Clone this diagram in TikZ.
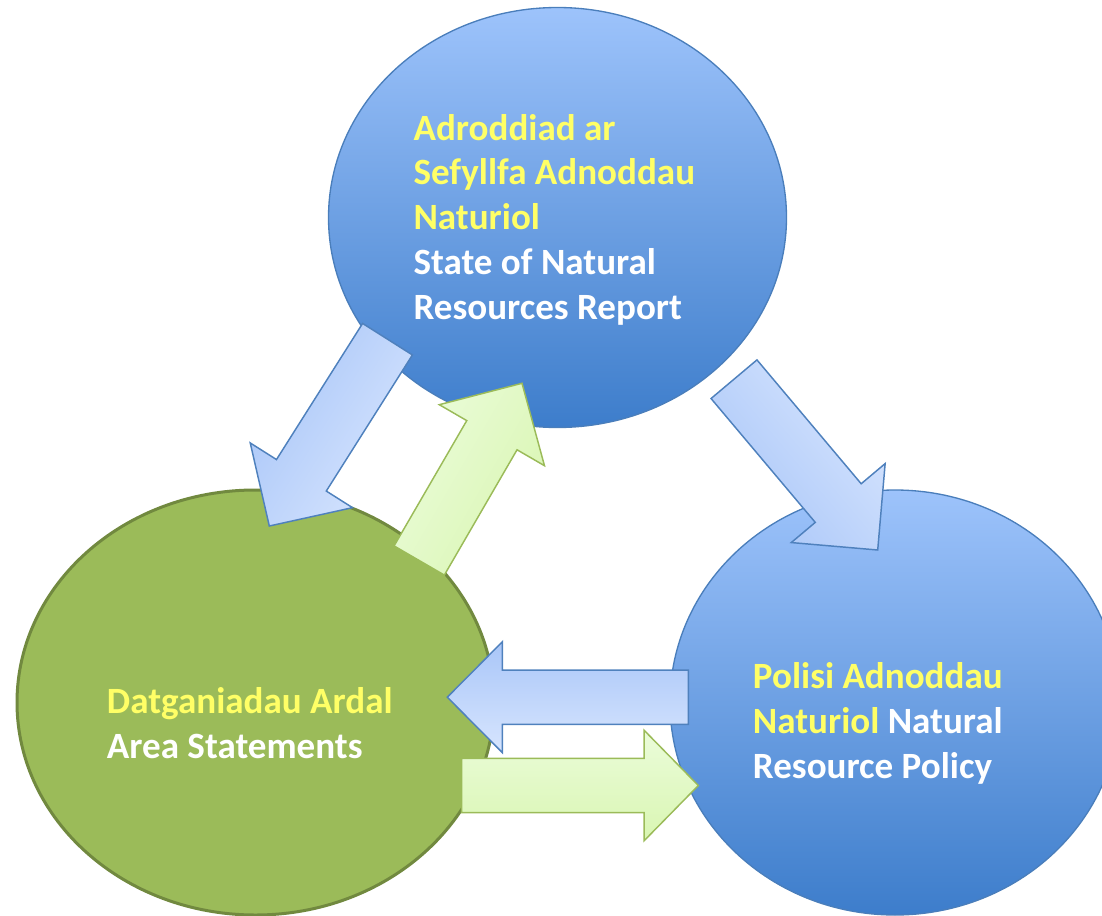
\documentclass[tikz,border=0pt]{standalone}
\usepackage{fontspec}
\setmainfont{Carlito}
\usetikzlibrary{calc,shapes.geometric}

\definecolor{circtop}{HTML}{9DC3FB}
\definecolor{circbot}{HTML}{3D7DCB}
\definecolor{circline}{HTML}{4A7EBB}
\definecolor{areafill}{HTML}{9BBB59}
\definecolor{arealine}{HTML}{71893F}
\definecolor{arrowblueA}{HTML}{A9C6F8}
\definecolor{arrowblueB}{HTML}{D7E5FE}
\definecolor{arrowline}{HTML}{4F81BD}
\definecolor{arrowgreenA}{HTML}{EBFCDA}
\definecolor{arrowgreenB}{HTML}{D9F6B2}
\definecolor{txtyellow}{HTML}{FFFF66}

\tikzset{
  bluecirc/.style={ellipse, draw=circline, line width=1pt, top color=circtop, bottom color=circbot, inner sep=0pt},
  greencirc/.style={ellipse, draw=arealine, line width=2.25pt, fill=areafill, inner sep=0pt},
  bluearrow/.style={draw=arrowline, line width=1.1pt, top color=arrowblueA, bottom color=arrowblueB},
  greenarrow/.style={draw=areafill, line width=1.1pt, top color=arrowgreenA, bottom color=arrowgreenB},
  captxt/.style={anchor=base west, inner sep=0pt, align=left, text=white,
    font=\fontsize{27.8pt}{33.6pt}\selectfont\bfseries}
}

% block arrow: style, tail, tip, half shaft, half head, head length
\newcommand{\blockarrow}[6]{%
  \coordinate (neck) at ($(#3)!#6!(#2)$);
  \draw[#1] ($(#2)!#4!90:(#3)$) -- ($(neck)!#4!90:(#3)$) -- ($(neck)!#5!90:(#3)$) -- (#3)
    -- ($(neck)!#5!-90:(#3)$) -- ($(neck)!#4!-90:(#3)$) -- ($(#2)!#4!-90:(#3)$) -- cycle;
}

\begin{document}
\begin{tikzpicture}[x=0.75pt,y=0.75pt]
    \useasboundingbox (0,0) rectangle (1102,-916);
    % the three bodies
    \node[bluecirc, minimum width=343.5pt, minimum height=315pt] (sonr) at (557.5,-217.5) {};
    \node[bluecirc, minimum width=337.5pt, minimum height=318.75pt] (policy) at (895,-702.5) {};
    \node[greencirc, minimum width=357.75pt, minimum height=318.75pt] (area) at (255.5,-702.5) {};
    % texts (base = last line)
    \node[captxt] (sonrtxt) at (413.3,-319.3) {\textcolor{txtyellow}{Adroddiad ar}\\
      \textcolor{txtyellow}{Sefyllfa Adnoddau}\\ \textcolor{txtyellow}{Naturiol}\\
      State of Natural\\ Resources Report};
    \node[captxt] (areatxt) at (106.7,-758.3) {\textcolor{txtyellow}{Datganiadau Ardal}\\ Area Statements};
    \node[captxt] (policytxt) at (752.7,-778.3) {\textcolor{txtyellow}{Polisi Adnoddau}\\
      \textcolor{txtyellow}{Naturiol} Natural\\ Resource Policy};
    % arrow ends
    \coordinate (sonr-out1) at (387.5,-339.2);
    \coordinate (area-in1) at (269.3,-526);
    \coordinate (area-out1) at (419.2,-560.5);
    \coordinate (sonr-in1) at (522,-383.3);
    \coordinate (sonr-out2) at (734,-379.2);
    \coordinate (policy-in1) at (877.7,-550);
    \coordinate (policy-out1) at (688.3,-697.2);
    \coordinate (area-in2) at (447.3,-697.2);
    \coordinate (area-out2) at (461.7,-785.5);
    \coordinate (policy-in2) at (698.3,-785.5);
    % arrows
    \blockarrow{bluearrow, shading angle=58}{sonr-out1}{area-in1}{22.1pt}{45.4pt}{45pt}
    \blockarrow{greenarrow, shading angle=60}{area-out1}{sonr-in1}{21.8pt}{45.6pt}{45pt}
    \blockarrow{bluearrow, shading angle=130}{sonr-out2}{policy-in1}{22.5pt}{46pt}{46pt}
    \blockarrow{bluearrow}{policy-out1}{area-in2}{20.3pt}{41.6pt}{41.3pt}
    \blockarrow{greenarrow}{area-out2}{policy-in2}{20.4pt}{41.5pt}{40.7pt}
\end{tikzpicture}
\end{document}
